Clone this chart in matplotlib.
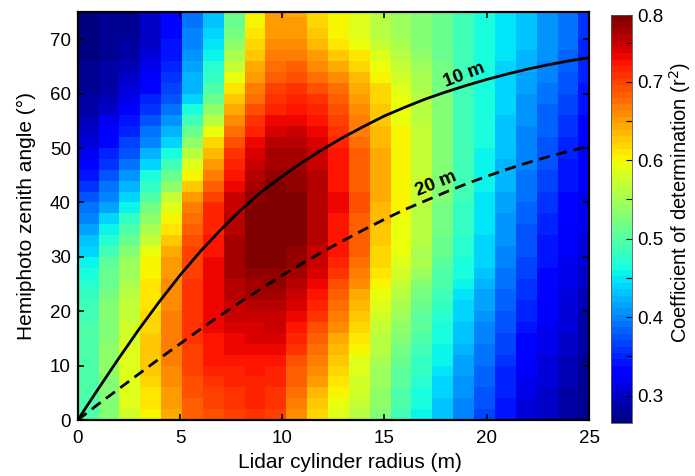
import numpy as np
import matplotlib
matplotlib.use("Agg")
import matplotlib.pyplot as plt

plt.rcParams["font.family"] = ["Liberation Sans", "DejaVu Sans"]

# ── Data ─────────────────────────────────────────────────────────────────────
# r² per lidar-radius column (25 columns), each listed from 0° up to 76° in 2° rows
R2_BY_COLUMN = [
    [.50, .50, .50, .50, .50, .50, .50, .495, .493, .491, .486, .478, .47, .462, .454, .443, .429, .415, .401,
     .387, .373, .359, .345, .331, .317, .307, .301, .295, .289, .283, .279, .277, .275, .273, .271, .27, .27, .27],
    [.53, .531, .532, .533, .534, .535, .534, .533, .531, .531, .527, .521, .515, .509, .503, .491, .473, .455,
     .437, .419, .403, .389, .375, .361, .347, .335, .325, .315, .305, .295, .289, .286, .283, .28, .277, .275,
     .275, .275],
    [.58, .582, .584, .587, .589, .588, .584, .58, .576, .572, .567, .561, .555, .549, .543, .531, .513, .495,
     .477, .459, .442, .426, .41, .394, .378, .364, .352, .34, .328, .316, .307, .301, .295, .289, .283, .28,
     .28, .28],
    [.60, .607, .613, .62, .627, .629, .626, .623, .62, .617, .614, .611, .608, .605, .602, .591, .573, .555,
     .537, .519, .50, .48, .46, .44, .42, .403, .389, .375, .361, .347, .336, .328, .32, .312, .304, .30, .30, .30],
    [.645, .649, .654, .658, .663, .665, .665, .665, .665, .665, .663, .659, .655, .651, .647, .639, .626, .613,
     .60, .587, .567, .541, .515, .489, .463, .442, .426, .41, .394, .378, .367, .36, .353, .346, .339, .334,
     .332, .33],
    [.68, .684, .689, .693, .698, .701, .703, .705, .707, .709, .709, .707, .705, .703, .701, .696, .688, .68,
     .672, .664, .649, .627, .605, .583, .561, .538, .514, .49, .466, .442, .427, .421, .415, .409, .403, .398,
     .394, .39],
    [.69, .697, .703, .71, .717, .722, .725, .728, .731, .734, .735, .733, .733, .732, .731, .728, .724, .72,
     .716, .712, .702, .686, .67, .654, .638, .617, .591, .565, .539, .513, .494, .482, .47, .458, .446, .438,
     .434, .43],
    [.70, .704, .709, .713, .718, .723, .729, .735, .741, .747, .752, .755, .758, .761, .764, .764, .761, .758,
     .755, .752, .745, .735, .725, .715, .705, .692, .676, .66, .644, .628, .61, .592, .573, .554, .535, .522,
     .516, .51],
    [.71, .713, .717, .72, .723, .728, .733, .738, .743, .748, .754, .761, .768, .775, .782, .785, .784, .783,
     .782, .781, .776, .768, .76, .752, .744, .733, .719, .705, .691, .677, .664, .652, .64, .628, .616, .608,
     .604, .60],
    [.70, .704, .709, .713, .718, .724, .731, .738, .745, .752, .758, .764, .77, .776, .782, .785, .785, .785,
     .785, .785, .783, .778, .773, .768, .763, .754, .742, .73, .718, .706, .696, .687, .678, .669, .66, .654,
     .652, .65],
    [.66, .667, .673, .68, .687, .695, .705, .715, .725, .735, .744, .751, .758, .765, .772, .776, .777, .778,
     .779, .78, .778, .774, .77, .766, .762, .755, .745, .735, .725, .715, .704, .692, .68, .668, .656, .649,
     .647, .645],
    [.62, .629, .638, .647, .656, .665, .675, .685, .695, .705, .714, .722, .73, .738, .746, .751, .753, .755,
     .757, .759, .759, .756, .753, .75, .747, .741, .732, .723, .714, .705, .693, .678, .663, .648, .633, .624,
     .622, .62],
    [.59, .597, .603, .61, .617, .625, .635, .645, .655, .665, .675, .685, .695, .705, .715, .721, .723, .725,
     .727, .729, .729, .727, .725, .723, .721, .716, .708, .70, .692, .684, .673, .658, .643, .628, .613, .604,
     .602, .60],
    [.565, .569, .574, .578, .583, .59, .599, .608, .617, .626, .635, .645, .655, .665, .675, .681, .683, .685,
     .687, .689, .689, .687, .685, .683, .681, .677, .671, .665, .659, .653, .644, .632, .62, .608, .596, .59,
     .59, .59],
    [.53, .534, .539, .543, .548, .553, .559, .565, .571, .577, .584, .592, .60, .608, .616, .622, .626, .63,
     .634, .638, .64, .64, .64, .64, .64, .638, .634, .63, .626, .622, .615, .604, .593, .582, .571, .565, .565,
     .565],
    [.49, .494, .499, .503, .508, .514, .522, .53, .538, .546, .554, .562, .57, .578, .586, .591, .593, .595,
     .597, .599, .60, .601, .603, .604, .604, .604, .601, .598, .595, .592, .586, .577, .568, .559, .55, .545,
     .545, .545],
    [.455, .461, .466, .472, .477, .483, .489, .495, .501, .507, .515, .524, .533, .542, .551, .556, .558, .56,
     .562, .564, .566, .567, .568, .568, .569, .569, .567, .565, .563, .561, .557, .55, .543, .536, .529, .525,
     .525, .525],
    [.43, .434, .439, .443, .448, .453, .458, .463, .468, .473, .479, .486, .493, .50, .507, .512, .515, .518,
     .521, .524, .526, .527, .528, .529, .53, .53, .529, .528, .527, .526, .524, .521, .518, .515, .512, .51,
     .51, .51],
    [.40, .403, .407, .41, .413, .418, .423, .428, .433, .438, .443, .449, .455, .461, .467, .472, .475, .478,
     .481, .484, .486, .487, .488, .489, .49, .49, .49, .49, .49, .49, .49, .49, .49, .49, .49, .49, .49, .49],
    [.37, .373, .377, .38, .383, .388, .393, .398, .403, .408, .413, .419, .425, .431, .437, .441, .443, .445,
     .447, .449, .451, .453, .455, .457, .459, .46, .46, .46, .46, .46, .46, .46, .46, .46, .46, .46, .46, .46],
    [.34, .343, .347, .35, .353, .358, .363, .368, .373, .378, .382, .386, .39, .394, .398, .402, .405, .408,
     .411, .414, .417, .42, .423, .426, .429, .431, .433, .435, .437, .439, .44, .442, .443, .444, .445, .445,
     .445, .445],
    [.31, .313, .317, .32, .323, .328, .333, .338, .343, .348, .352, .356, .36, .364, .368, .372, .375, .378,
     .381, .384, .387, .39, .393, .396, .399, .401, .403, .405, .407, .409, .412, .416, .42, .424, .428, .43,
     .43, .43],
    [.30, .302, .304, .307, .309, .312, .315, .318, .321, .324, .327, .33, .333, .336, .339, .342, .346, .35,
     .354, .358, .362, .365, .368, .371, .374, .377, .38, .383, .386, .389, .392, .396, .40, .404, .408, .41,
     .41, .41],
    [.285, .287, .289, .292, .294, .297, .30, .303, .306, .309, .311, .313, .315, .317, .319, .322, .325, .328,
     .331, .334, .337, .34, .343, .346, .349, .352, .356, .36, .364, .368, .372, .376, .38, .384, .388, .39,
     .39, .39],
    [.275, .276, .277, .278, .279, .281, .283, .285, .287, .289, .292, .296, .30, .304, .308, .311, .313, .315,
     .317, .319, .321, .323, .325, .327, .329, .332, .335, .338, .341, .344, .346, .348, .35, .352, .354, .355,
     .355, .355],
]

# projection lines for 10 m and 20 m canopy height, read at each metre of radius
LINE_RADIUS = list(range(26))
ANGLE_10M = [0, 5.7, 11.3, 16.7, 21.8, 26.6, 31.0, 35.0, 38.7, 42.0, 44.8, 47.4, 49.8, 52.0, 54.0, 55.9,
             57.5, 59.0, 60.3, 61.5, 62.6, 63.6, 64.5, 65.3, 66.0, 66.6]
ANGLE_20M = [0, 2.9, 5.7, 8.5, 11.3, 14.0, 16.7, 19.3, 21.8, 24.2, 26.6, 28.8, 31.0, 33.0, 35.0, 36.9,
             38.7, 40.3, 41.9, 43.4, 44.8, 46.1, 47.3, 48.4, 49.4, 50.3]

r2 = np.array(R2_BY_COLUMN).T
n_rows, n_cols = r2.shape
x_edges = np.linspace(0, 25.5, n_cols + 1)
y_edges = np.arange(n_rows + 1) * 2.0

# ── Figure ───────────────────────────────────────────────────────────────────
fig = plt.figure(figsize=(6.95, 4.76), dpi=100)
ax = fig.add_axes([0.1118, 0.1176, 0.7357, 0.8572])
cax = fig.add_axes([0.8787, 0.1113, 0.0302, 0.857])

cmap = plt.get_cmap("jet", 64)
mesh = ax.pcolormesh(x_edges, y_edges, r2, cmap=cmap, vmin=0.265, vmax=0.785, shading="flat")

ax.plot(LINE_RADIUS, ANGLE_10M, color="black", lw=2.0)
ax.plot(LINE_RADIUS, ANGLE_20M, color="black", lw=2.0, dashes=(4, 2.4))
ax.text(18.9, 63.3, "10 m", rotation=21, fontsize=13.5, fontweight="bold", ha="center", va="center")
ax.text(17.5, 43.4, "20 m", rotation=22, fontsize=13.5, fontweight="bold", ha="center", va="center")

ax.set_xlim(0, 25)
ax.set_ylim(0, 75)
ax.set_xticks(range(0, 26, 5))
ax.set_yticks(range(0, 71, 10))
ax.tick_params(direction="in", length=4, width=1.2, top=True, right=True, labelsize=13.5)
ax.tick_params(axis="x", pad=7)
ax.tick_params(axis="y", pad=5)
for s in ax.spines.values():
    s.set_linewidth(1.6)

# axis titles placed where the reference has them
fig.text(350 / 695, 1 - 463 / 476, "Lidar cylinder radius (m)", fontsize=15,
         ha="center", va="center")
fig.text(26 / 695, 1 - 216 / 476, "Hemiphoto zenith angle (°)", fontsize=15,
         rotation=90, ha="center", va="center")

cb = fig.colorbar(mesh, cax=cax)
cb.set_ticks([0.3, 0.4, 0.5, 0.6, 0.7, 0.785])
cb.set_ticklabels(["0.3", "0.4", "0.5", "0.6", "0.7", "0.8"])
cb.ax.set_yticks([0.35, 0.45, 0.55, 0.65, 0.75], minor=True)
cb.ax.tick_params(which="both", direction="in", length=4, width=0.8, labelsize=13.5, pad=4)
cb.outline.set_linewidth(0.6)
cb.outline.set_edgecolor("#555555")
fig.text(680 / 695, 1 - 202 / 476, "Coefficient of determination (r$^2$)", fontsize=14.5,
         rotation=90, ha="center", va="center")

fig.savefig("out.png", dpi=100)
